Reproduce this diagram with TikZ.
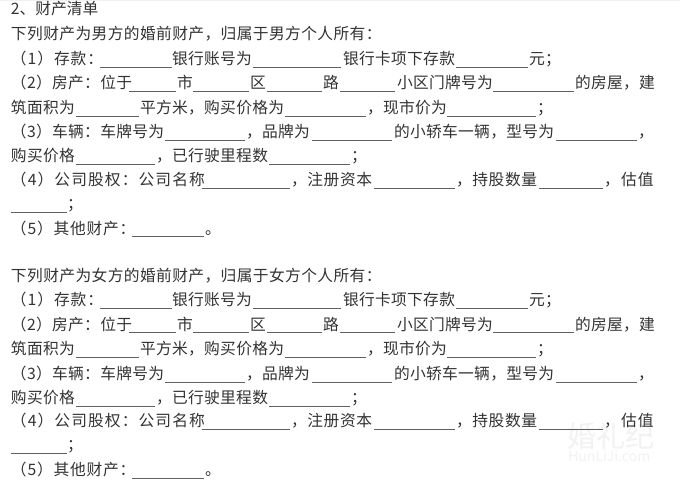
\documentclass[tikz,border=0pt]{standalone}
\usepackage{fontspec}
\newfontfamily\cjk{Noto Sans CJK SC}
\newcommand{\sz}{\fontsize{11.8pt}{14pt}\selectfont}
\tikzset{
  seg/.style={anchor=base west,inner sep=0pt,outer sep=0pt,text=black!80,font=\cjk\sz},
  blankrule/.style={draw=black!62,line width=0.75pt},
  wmark/.style={anchor=base west,inner sep=0pt,text=black!5}
}
% text segment: x, baseline y, text
\newcommand{\T}[3]{\node[seg] at (#1,#2) {\addfontfeature{LetterSpace=2}#3};}
% wide text segment: x, baseline y, letter space, text
\newcommand{\W}[4]{\node[seg] at (#1,#2) {\addfontfeature{LetterSpace=#3}#4};}
% fill-in blank: x1, y, x2
\newcommand{\U}[3]{\draw[blankrule] (#1,#2) -- (#3,#2);}
\newcommand{\Block}[1]{%
  \W{11}{40}{2.5}{下列财产为#1的婚前财产，归属于#1个人所有：}
  % line 1
  \W{11}{64.5}{6}{（1）存款：}
  \U{100}{67.5}{172}
  \T{172}{64.5}{银行账号为}
  \U{253}{67.5}{341}
  \T{343}{64.5}{银行卡项下存款}
  \U{456}{67.5}{528}
  \T{529}{64.5}{元；}
  % line 2
  \T{11}{89}{（2）房产：位于}
  \U{129}{91.5}{176}
  \T{177}{89}{市}
  \U{193}{91.5}{249}
  \T{250}{89}{区}
  \U{267}{91.5}{322}
  \T{323}{89}{路}
  \U{340}{91.5}{395}
  \T{397}{89}{小区门牌号为}
  \U{493}{91.5}{574}
  \T{575}{89}{的房屋，建}
  % line 3
  \T{11}{113.5}{筑面积为}
  \U{76}{116.5}{139}
  \T{140}{113.5}{平方米，购买价格为}
  \U{285}{116.5}{366}
  \T{367}{113.5}{，现市价为}
  \U{447}{116.5}{536}
  \T{537}{113.5}{；}
  % line 4
  \T{11}{138}{（3）车辆：车牌号为}
  \U{165}{141}{245}
  \T{246}{138}{，品牌为}
  \U{312}{141}{392}
  \T{394}{138}{的小轿车一辆，型号为}
  \U{556}{141}{637}
  \T{638}{138}{，}
  % line 5
  \T{11}{162}{购买价格}
  \U{76}{165}{155}
  \T{156}{162}{，已行驶里程数}
  \U{269}{165}{350}
  \T{351}{162}{；}
  % line 6
  \W{11}{185.5}{7}{（4）公司股权：公司名称}
  \U{202}{188.5}{290}
  \W{291}{185.5}{4}{，注册资本}
  \U{374}{188.5}{455}
  \W{456}{185.5}{4}{，持股数量}
  \U{539}{188.5}{603}
  \W{604}{185.5}{8}{，估值}
  % line 7
  \U{11}{212.5}{67}
  \T{67}{209.5}{；}
  % line 8
  \W{11}{234}{5}{（5）其他财产：}
  \U{132}{237}{204}
  \T{205}{234}{。}
}
\begin{document}
\begin{tikzpicture}[x=0.75pt,y=-0.75pt]
  \useasboundingbox (0,0) rectangle (680,484);
  \fill[white] (0,0) rectangle (680,484);
  \fill[black!6] (0,0) rectangle (680,1);
  \node[wmark,font=\cjk\fontsize{22pt}{24pt}\selectfont] (markcn) at (567,447) {婚礼纪};
  \node[wmark,font=\cjk\fontsize{10.5pt}{12pt}\selectfont] (markla) at (568,461) {HunLiJi.com};
  \W{11}{15}{0}{2、财产清单}
  \Block{男方}
  \begin{scope}[yshift=-181.1pt]
    \Block{女方}
  \end{scope}
\end{tikzpicture}
\end{document}
